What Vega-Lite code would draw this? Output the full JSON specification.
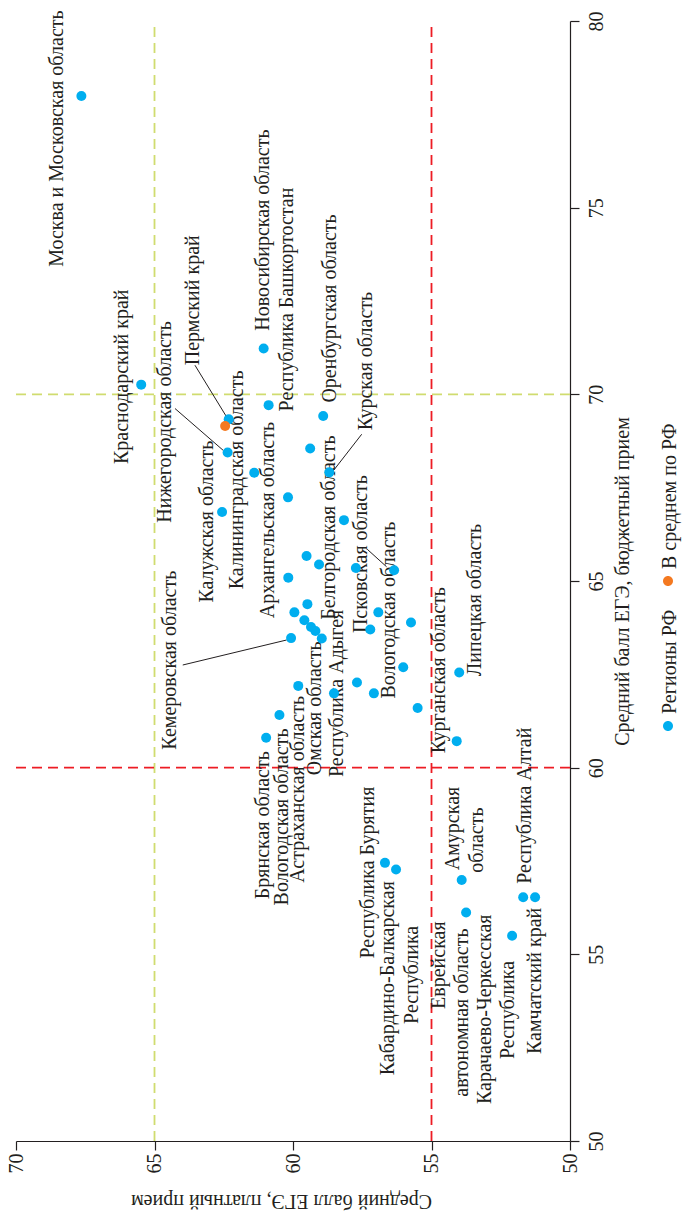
{
  "$schema": "https://vega.github.io/schema/vega-lite/v6.json",
  "width": 554,
  "height": 1120,
  "autosize": {"type": "none"},
  "padding": {"left": 16, "top": 21, "right": 112, "bottom": 70},
  "background": "white",
  "config": {
    "view": {"stroke": null},
    "font": "Liberation Serif",
    "style": {"guide-label": {"angle": 270}}
  },
  "datasets": {
    "points": [
      {"region": "Москва и Московская область", "paid": 67.64, "budget": 77.99, "group": "Регионы РФ"},
      {"region": "Краснодарский край", "paid": 65.48, "budget": 70.26, "group": "Регионы РФ"},
      {"region": "Новосибирская область", "paid": 61.06, "budget": 71.23, "group": "Регионы РФ"},
      {"region": "Республика Башкортостан", "paid": 60.88, "budget": 69.71, "group": "Регионы РФ"},
      {"region": "Пермский край", "paid": 62.32, "budget": 69.33, "group": "Регионы РФ"},
      {"region": "Нижегородская область", "paid": 62.36, "budget": 68.44, "group": "Регионы РФ"},
      {"region": "Калининградская область", "paid": 61.40, "budget": 67.90, "group": "Регионы РФ"},
      {"region": "Калужская область", "paid": 62.56, "budget": 66.85, "group": "Регионы РФ"},
      {"region": "Архангельская область", "paid": 60.18, "budget": 67.24, "group": "Регионы РФ"},
      {"region": "Оренбургская область", "paid": 58.91, "budget": 69.42, "group": "Регионы РФ"},
      {"region": "", "paid": 59.38, "budget": 68.55, "group": "Регионы РФ"},
      {"region": "Курская область", "paid": 58.69, "budget": 67.91, "group": "Регионы РФ"},
      {"region": "Белгородская область", "paid": 58.16, "budget": 66.63, "group": "Регионы РФ"},
      {"region": "", "paid": 59.51, "budget": 65.67, "group": "Регионы РФ"},
      {"region": "", "paid": 59.06, "budget": 65.44, "group": "Регионы РФ"},
      {"region": "", "paid": 57.73, "budget": 65.35, "group": "Регионы РФ"},
      {"region": "Псковская область", "paid": 56.35, "budget": 65.29, "group": "Регионы РФ"},
      {"region": "", "paid": 60.17, "budget": 65.09, "group": "Регионы РФ"},
      {"region": "", "paid": 59.95, "budget": 64.16, "group": "Регионы РФ"},
      {"region": "", "paid": 59.48, "budget": 64.38, "group": "Регионы РФ"},
      {"region": "Вологодская область", "paid": 56.92, "budget": 64.16, "group": "Регионы РФ"},
      {"region": "", "paid": 55.74, "budget": 63.89, "group": "Регионы РФ"},
      {"region": "", "paid": 59.59, "budget": 63.95, "group": "Регионы РФ"},
      {"region": "", "paid": 59.35, "budget": 63.77, "group": "Регионы РФ"},
      {"region": "", "paid": 59.19, "budget": 63.66, "group": "Регионы РФ"},
      {"region": "Омская область", "paid": 58.96, "budget": 63.46, "group": "Регионы РФ"},
      {"region": "", "paid": 57.21, "budget": 63.70, "group": "Регионы РФ"},
      {"region": "Кемеровская область", "paid": 60.07, "budget": 63.47, "group": "Регионы РФ"},
      {"region": "Астраханская область", "paid": 59.81, "budget": 62.19, "group": "Регионы РФ"},
      {"region": "Вологодская область (2)", "paid": 60.49, "budget": 61.41, "group": "Регионы РФ"},
      {"region": "Брянская область", "paid": 60.97, "budget": 60.80, "group": "Регионы РФ"},
      {"region": "", "paid": 56.02, "budget": 62.69, "group": "Регионы РФ"},
      {"region": "Липецкая область", "paid": 54.00, "budget": 62.55, "group": "Регионы РФ"},
      {"region": "", "paid": 57.69, "budget": 62.28, "group": "Регионы РФ"},
      {"region": "Республика Адыгея", "paid": 58.52, "budget": 61.99, "group": "Регионы РФ"},
      {"region": "", "paid": 57.08, "budget": 61.99, "group": "Регионы РФ"},
      {"region": "", "paid": 55.50, "budget": 61.60, "group": "Регионы РФ"},
      {"region": "Курганская область", "paid": 54.09, "budget": 60.71, "group": "Регионы РФ"},
      {"region": "Республика Бурятия", "paid": 56.68, "budget": 57.45, "group": "Регионы РФ"},
      {"region": "Кабардино-Балкарская Республика", "paid": 56.28, "budget": 57.27, "group": "Регионы РФ"},
      {"region": "Амурская область", "paid": 53.91, "budget": 56.99, "group": "Регионы РФ"},
      {"region": "Еврейская автономная область", "paid": 53.75, "budget": 56.12, "group": "Регионы РФ"},
      {"region": "Карачаево-Черкесская Республика", "paid": 52.09, "budget": 55.50, "group": "Регионы РФ"},
      {"region": "Республика Алтай", "paid": 51.69, "budget": 56.53, "group": "Регионы РФ"},
      {"region": "Камчатский край", "paid": 51.26, "budget": 56.53, "group": "Регионы РФ"},
      {"region": "В среднем по РФ", "paid": 62.45, "budget": 69.15, "group": "В среднем по РФ"}
    ],
    "labels": [
      {"text": "Москва и Московская область", "paid": 68.53, "budget": 76.85},
      {"text": "Краснодарский край", "paid": 66.18, "budget": 70.47},
      {"text": "Нижегородская область", "paid": 64.62, "budget": 69.26},
      {"text": "Пермский край", "paid": 63.62, "budget": 72.52},
      {"text": "Калужская область", "paid": 63.12, "budget": 66.59},
      {"text": "Калининградская область", "paid": 62.03, "budget": 67.71},
      {"text": "Архангельская область", "paid": 60.89, "budget": 66.63},
      {"text": "Новосибирская область", "paid": 61.07, "budget": 74.40},
      {"text": "Республика Башкортостан", "paid": 60.23, "budget": 72.54},
      {"text": "Оренбургская область", "paid": 58.66, "budget": 72.30},
      {"text": "Курская область", "paid": 57.36, "budget": 70.89},
      {"text": "Белгородская область", "paid": 58.70, "budget": 66.43},
      {"text": "Псковская область", "paid": 57.55, "budget": 65.72},
      {"text": "Вологодская область", "paid": 56.53, "budget": 64.22},
      {"text": "Липецкая область", "paid": 53.43, "budget": 64.49},
      {"text": "Курганская область", "paid": 54.72, "budget": 62.61},
      {"text": "Кемеровская область", "paid": 64.44, "budget": 62.88},
      {"text": "Брянская область", "paid": 61.07, "budget": 58.46},
      {"text": "Вологодская область", "paid": 60.41, "budget": 58.68},
      {"text": "Астраханская область", "paid": 59.81, "budget": 59.42},
      {"text": "Омская область", "paid": 59.21, "budget": 61.59},
      {"text": "Республика Адыгея", "paid": 58.40, "budget": 61.99},
      {"text": "Республика Бурятия", "paid": 57.30, "budget": 57.19},
      {"text": "Кабардино-Балкарская", "paid": 56.56, "budget": 54.36},
      {"text": "Республика", "paid": 55.71, "budget": 54.45},
      {"text": "Еврейская", "paid": 54.72, "budget": 54.71},
      {"text": "автономная область", "paid": 53.91, "budget": 53.44},
      {"text": "Амурская", "paid": 54.21, "budget": 58.37},
      {"text": "область", "paid": 53.37, "budget": 58.06},
      {"text": "Карачаево-Черкесская", "paid": 53.07, "budget": 53.53},
      {"text": "Республика", "paid": 52.23, "budget": 53.51},
      {"text": "Республика Алтай", "paid": 51.62, "budget": 58.98},
      {"text": "Камчатский край", "paid": 51.26, "budget": 54.29}
    ],
    "leaders": [
      {"paid": 64.26, "budget": 69.62, "paid2": 62.52, "budget2": 68.50},
      {"paid": 63.54, "budget": 70.78, "paid2": 62.36, "budget2": 69.35},
      {"paid": 57.52, "budget": 68.93, "paid2": 58.60, "budget2": 67.90},
      {"paid": 63.98, "budget": 62.75, "paid2": 60.23, "budget2": 63.42},
      {"paid": 57.32, "budget": 65.85, "paid2": 56.62, "budget2": 65.38}
    ],
    "redLines": [
      {"paid": 55, "budget": 50, "paid2": 55, "budget2": 80},
      {"paid": 50, "budget": 60, "paid2": 70, "budget2": 60}
    ],
    "greenLines": [
      {"paid": 65, "budget": 50, "paid2": 65, "budget2": 80},
      {"paid": 50, "budget": 70, "paid2": 70, "budget2": 70}
    ]
  },
  "encoding": {
    "x": {
      "field": "paid", "type": "quantitative",
      "scale": {"domain": [50, 70], "reverse": true, "nice": false, "zero": false},
      "axis": {
        "title": "Средний балл ЕГЭ, платный прием", "orient": "bottom", "values": [50, 55, 60, 65, 70],
        "grid": false, "labelAngle": 270, "labelAlign": "right", "labelBaseline": "middle",
        "tickSize": 9, "labelPadding": 3, "domainColor": "#231f20", "tickColor": "#231f20", "domainWidth": 1.2, "tickWidth": 1.2,
        "labelColor": "#231f20", "labelFont": "Liberation Serif", "labelFontSize": 20,
        "titleColor": "#231f20", "titleFont": "Liberation Serif", "titleFontSize": 20, "titleFontWeight": "normal",
        "titleAngle": 180, "titleBaseline": "alphabetic", "titleAlign": "center", "titleX": 265, "titleY": 53
      }
    },
    "y": {
      "field": "budget", "type": "quantitative",
      "scale": {"domain": [50, 80], "nice": false, "zero": false},
      "axis": {
        "title": "Средний балл ЕГЭ, бюджетный прием", "orient": "right", "values": [50, 55, 60, 65, 70, 75, 80],
        "grid": false, "labelAngle": 270, "labelAlign": "center", "labelBaseline": "top",
        "tickSize": 9, "labelPadding": 7, "domainColor": "#231f20", "tickColor": "#231f20", "domainWidth": 1.2, "tickWidth": 1.2,
        "labelColor": "#231f20", "labelFont": "Liberation Serif", "labelFontSize": 20,
        "titleColor": "#231f20", "titleFont": "Liberation Serif", "titleFontSize": 20, "titleFontWeight": "normal",
        "titleAngle": 270, "titleBaseline": "middle", "titleAlign": "center", "titleX": 52
      }
    }
  },
  "layer": [
    {
      "data": {"name": "greenLines"},
      "mark": {"type": "rule", "color": "#d0dc6f", "strokeWidth": 1.8, "strokeDash": [10, 6]},
      "encoding": {"x2": {"field": "paid2"}, "y2": {"field": "budget2"}}
    },
    {
      "data": {"name": "redLines"},
      "mark": {"type": "rule", "color": "#ed1c24", "strokeWidth": 1.8, "strokeDash": [10, 6]},
      "encoding": {"x2": {"field": "paid2"}, "y2": {"field": "budget2"}}
    },
    {
      "data": {"name": "leaders"},
      "mark": {"type": "rule", "color": "#231f20", "strokeWidth": 1},
      "encoding": {"x2": {"field": "paid2"}, "y2": {"field": "budget2"}}
    },
    {
      "data": {"name": "labels"},
      "mark": {"type": "text", "angle": 270, "align": "center", "baseline": "middle", "font": "Liberation Serif", "fontSize": 20, "color": "#231f20"},
      "encoding": {"text": {"field": "text"}}
    },
    {
      "data": {"name": "points"},
      "mark": {"type": "circle", "size": 100, "opacity": 1},
      "encoding": {
        "color": {
          "field": "group", "type": "nominal",
          "scale": {"domain": ["В среднем по РФ", "Регионы РФ"], "range": ["#f47920", "#00aeef"]},
          "legend": {
            "title": null, "orient": "none", "legendX": 642, "legendY": 538, "direction": "vertical",
            "symbolSize": 100, "symbolType": "M -1 2.4 A 1 1 0 1 0 1 2.4 A 1 1 0 1 0 -1 2.4 Z",
            "labelFont": "Liberation Serif", "labelFontSize": 20,
            "labelColor": "#231f20", "labelOffset": -8, "labelLimit": 300, "rowPadding": 23, "padding": 0
          }
        }
      }
    }
  ]
}
